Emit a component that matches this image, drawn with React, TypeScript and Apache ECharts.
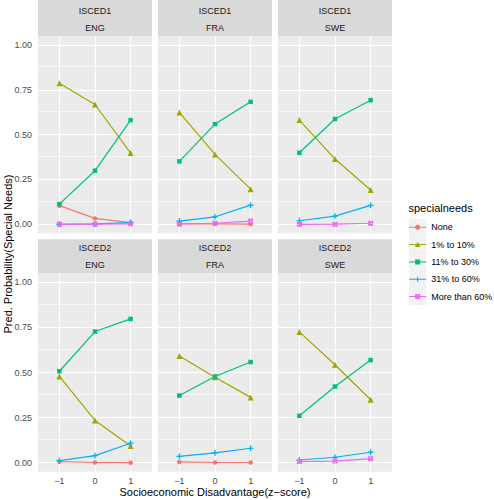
import React, { useEffect, useRef } from "react";
import * as echarts from "echarts";

// ---- data ----
const categories = ["None", "1% to 10%", "11% to 30%", "31% to 60%", "More than 60%"];
const levels = ["ISCED1", "ISCED2"];
const countries = ["ENG", "FRA", "SWE"];
const xValues = [-1, 0, 1];
const yTickValues = [0, 0.25, 0.5, 0.75, 1];
const yMinorValues = [0.125, 0.375, 0.625, 0.875];

// rows: None, 1-10, 11-30, 31-60, >60 ; values at x = -1, 0, 1 (null = absent)
const ISCED1_ENG = [[0.104, 0.033, 0.009], [0.786, 0.668, 0.397], [0.113, 0.299, 0.581], [0.0, 0.002, 0.01], [0.0, 0.001, 0.003]];
const ISCED1_FRA = [[0.002, 0.003, 0.001], [0.624, 0.39, 0.196], [0.351, 0.559, 0.683], [0.018, 0.042, 0.107], [0.002, 0.006, 0.018]];
const ISCED1_SWE = [null, [0.581, 0.364, 0.191], [0.399, 0.587, 0.692], [0.02, 0.046, 0.106], [0.0, 0.001, 0.006]];
const ISCED2_ENG = [[0.006, 0.001, 0.0], [0.478, 0.234, 0.093], [0.507, 0.727, 0.797], [0.011, 0.039, 0.108], null];
const ISCED2_FRA = [[0.004, 0.001, 0.001], [0.591, 0.474, 0.362], [0.372, 0.478, 0.558], [0.035, 0.054, 0.08], null];
const ISCED2_SWE = [null, [0.725, 0.543, 0.349], [0.26, 0.422, 0.569], [0.015, 0.03, 0.058], [0.006, 0.009, 0.022]];

const panels: (number[] | null)[][][] = [
  [ISCED1_ENG, ISCED1_FRA, ISCED1_SWE],
  [ISCED2_ENG, ISCED2_FRA, ISCED2_SWE],
];

// ---- styling ----
const colors = ["#F8766D", "#A3A500", "#00BF7D", "#00B0F6", "#E76BF3"];
const FONT = "Liberation Sans";
const plusPath = "path://M2,0H3V5H2ZM0,2H5V3H0Z";
const sqxPath =
  "path://M0,0H5V5H0ZM0.8,0.8V4.2H4.2V0.8ZM0,0L0.8,0L5,4.2L5,5L4.2,5L0,0.8ZM4.2,0L5,0L5,0.8L0.8,5L0,5L0,4.2Z";
const symbols = ["circle", "triangle", "rect", plusPath, sqxPath];
const symbolSizes = [4.5, 6, 4.5, 6, 5];

const lineSeg = "M0,2H17V3H0Z";
const legendIcons = [
  "path://" + lineSeg + "M6,2.5A2.5,2.5,0,1,1,11,2.5A2.5,2.5,0,1,1,6,2.5Z",
  "path://" + lineSeg + "M8.5,0L11.4,5H5.6Z",
  "path://" + lineSeg + "M6,0H11V5H6Z",
  "path://" + lineSeg + "M8,0H9V5H8Z",
  "path://" + lineSeg +
    "M6,0H11V5H6ZM6.8,0.8V4.2H10.2V0.8ZM6,0L6.8,0L11,4.2L11,5L10.2,5L6,0.8ZM10.2,0L11,0L11,0.8L6.8,5L6,5L6,4.2Z",
];

const colLeft = [38, 158, 278];
const panelW = 114;
const rowTop = [36, 273.3];
const rowH = [197.3, 198.4];
const stripTop = [0, 239.3];

function buildOption() {
  const grid: any[] = [];
  const xAxis: any[] = [];
  const yAxis: any[] = [];
  const series: any[] = [];
  const graphic: any[] = [];

  levels.forEach((lev, r) => {
    countries.forEach((cty, c) => {
      const idx = r * 3 + c;
      grid.push({
        left: colLeft[c],
        top: rowTop[r],
        width: panelW,
        height: rowH[r],
        show: true,
        backgroundColor: "#EBEBEB",
        borderWidth: 0,
      });
      const showX = r === 1;
      const showY = c === 0;
      xAxis.push({
        type: "value",
        gridIndex: idx,
        min: -1.6,
        max: 1.6,
        axisLine: { show: false },
        splitLine: { show: false },
        axisTick: {
          show: showX,
          customValues: xValues,
          length: 3,
          lineStyle: { color: "#333333", width: 1 },
        },
        axisLabel: {
          show: showX,
          customValues: xValues,
          margin: 5,
          color: "#4D4D4D",
          fontSize: 9,
          fontFamily: FONT,
          formatter: (v: number) => (v < 0 ? "\u2212" + Math.abs(v) : String(v)),
        },
      });
      yAxis.push({
        type: "value",
        gridIndex: idx,
        min: -0.05,
        max: 1.05,
        axisLine: { show: false },
        splitLine: { show: false },
        axisTick: {
          show: showY,
          customValues: yTickValues,
          length: 3,
          lineStyle: { color: "#333333", width: 1 },
        },
        axisLabel: {
          show: showY,
          customValues: yTickValues,
          margin: 6,
          color: "#4D4D4D",
          fontSize: 9,
          fontFamily: FONT,
          formatter: (v: number) => v.toFixed(2),
        },
      });

      // gridlines
      const major = { color: "#FFFFFF", width: 1.1, type: "solid" };
      const minor = { color: "#FFFFFF", width: 0.55, type: "solid" };
      series.push({
        type: "line",
        xAxisIndex: idx,
        yAxisIndex: idx,
        data: [],
        z: 1,
        silent: true,
        markLine: {
          silent: true,
          z: 1,
          symbol: ["none", "none"],
          label: { show: false },
          emphasis: { disabled: true },
          lineStyle: { type: "solid" },
          data: [
            ...yMinorValues.map((v) => ({ yAxis: v, lineStyle: minor })),
            ...yTickValues.map((v) => ({ yAxis: v, lineStyle: major })),
            ...xValues.map((v) => ({ xAxis: v, lineStyle: major })),
          ],
        },
      });

      // data
      const panel = panels[r][c];
      categories.forEach((cat, k) => {
        const vals = panel[k];
        if (!vals) return;
        series.push({
          type: "line",
          name: cat,
          xAxisIndex: idx,
          yAxisIndex: idx,
          z: 2 + k * 0.01,
          data: xValues.map((x, j) => [x, vals[j]]),
          symbol: symbols[k],
          symbolSize: symbolSizes[k],
          showSymbol: true,
          lineStyle: { color: colors[k], width: 1.2 },
          itemStyle: { color: colors[k], borderWidth: 0 },
          emphasis: { disabled: true },
          silent: true,
        });
      });

      // strip
      const sTop = stripTop[r];
      const sBottom = rowTop[r];
      graphic.push({
        type: "rect",
        shape: { x: colLeft[c], y: sTop, width: panelW, height: sBottom - sTop },
        style: { fill: "#D9D9D9" },
        silent: true,
      });
      [lev, cty].forEach((txt, li) => {
        graphic.push({
          type: "text",
          x: colLeft[c] + panelW / 2,
          y: sBottom - (li === 0 ? 25.5 : 8.4),
          style: {
            text: txt,
            fill: "#1A1A1A",
            font: `9px '${FONT}'`,
            textAlign: "center",
            textVerticalAlign: "middle",
          },
          silent: true,
        });
      });
    });
  });

  // axis titles
  graphic.push({
    type: "text",
    x: 8.3,
    y: 254,
    rotation: Math.PI / 2,
    style: {
      text: "Pred. Probability(Special Needs)",
      fill: "#000000",
      font: `11px '${FONT}'`,
      textAlign: "center",
      textVerticalAlign: "middle",
    },
    silent: true,
  });
  graphic.push({
    type: "text",
    x: 215,
    y: 491.5,
    style: {
      text: "Socioeconomic Disadvantage(z\u2212score)",
      fill: "#000000",
      font: `11px '${FONT}'`,
      textAlign: "center",
      textVerticalAlign: "middle",
    },
    silent: true,
  });

  // legend title and key background
  graphic.push({
    type: "text",
    x: 408.5,
    y: 208.3,
    style: {
      text: "specialneeds",
      fill: "#000000",
      font: `11px '${FONT}'`,
      textAlign: "left",
      textVerticalAlign: "middle",
    },
    silent: true,
  });
  graphic.push({
    type: "rect",
    z: 0,
    shape: { x: 409, y: 218.7, width: 17.3, height: 17.3 * 5 },
    style: { fill: "#F2F2F2" },
    silent: true,
  });

  return {
    animation: false,
    textStyle: { fontFamily: FONT },
    grid,
    xAxis,
    yAxis,
    series,
    graphic,
    legend: {
      orient: "vertical",
      left: 409.15,
      top: 218.65,
      padding: 0,
      itemGap: 0,
      itemWidth: 17,
      itemHeight: 5,
      selectedMode: false,
      z: 5,
      itemStyle: { borderWidth: 0 },
      textStyle: { fontSize: 9, color: "#000000", fontFamily: FONT, lineHeight: 17.3 },
      data: categories.map((cat, k) => ({ name: cat, icon: legendIcons[k] })),
    },
  };
}

export default function App() {
  const ref = useRef<HTMLDivElement>(null);
  useEffect(() => {
    if (!ref.current) return;
    const chart = echarts.init(ref.current, undefined, { renderer: "svg" });
    chart.setOption(buildOption() as any);
    return () => chart.dispose();
  }, []);
  return (
    <div
      ref={ref}
      style={{ position: "absolute", left: 0, top: 0, width: 494, height: 500 }}
    />
  );
}
